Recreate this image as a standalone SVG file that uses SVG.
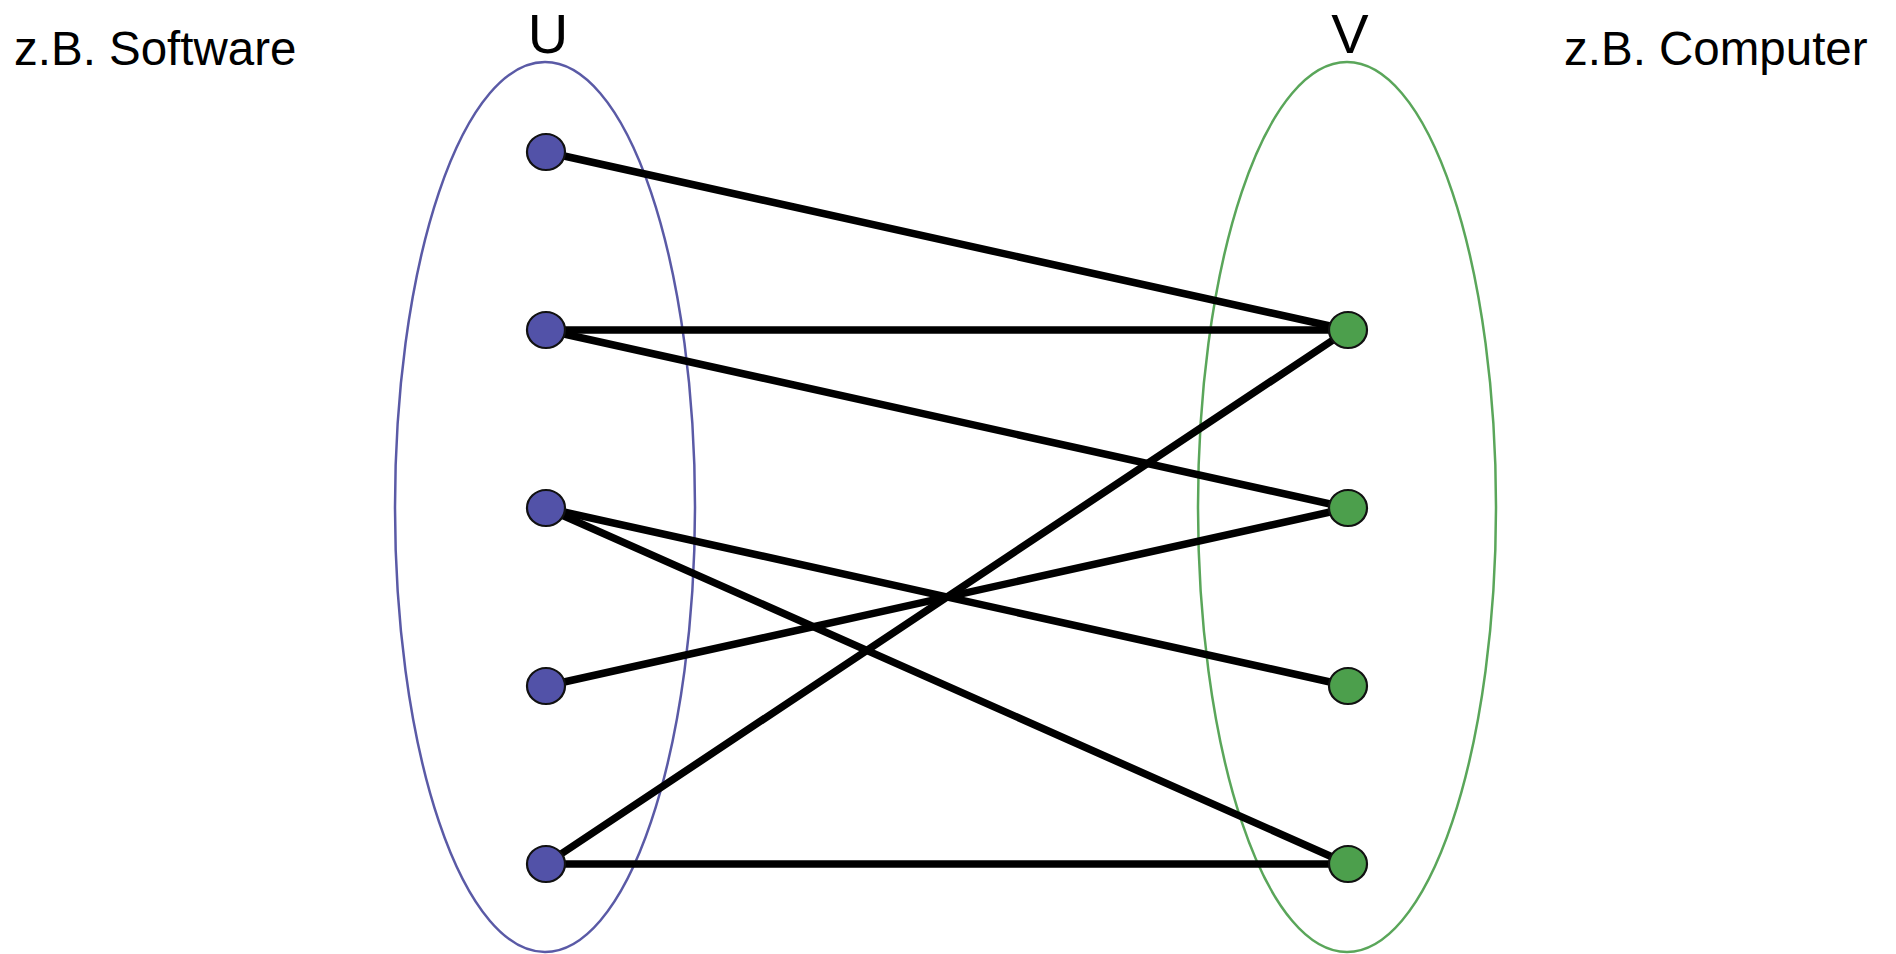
<svg xmlns="http://www.w3.org/2000/svg" width="1896" height="954" viewBox="0 0 1896 954">
<style>
text{font-family:"Liberation Sans",Arial,sans-serif;fill:#000}
.lbl{font-size:47.5px}
.set{font-size:56px;text-anchor:middle}
.e{stroke:#000;stroke-width:7.5;stroke-linecap:round}
.u{fill:#5252a8;stroke:#111;stroke-width:2.2}
.v{fill:#4c9f4c;stroke:#111;stroke-width:2.2}
</style>
<rect width="1896" height="954" fill="#fff"/>
<g id="setU">
<ellipse cx="545" cy="507" rx="150" ry="445" fill="none" stroke="#5a5aa6" stroke-width="2.5"/>
<text class="set" x="548" y="53">U</text>
</g>
<g id="setV">
<ellipse cx="1347" cy="507" rx="149" ry="445" fill="none" stroke="#5aa65a" stroke-width="2.5"/>
<text class="set" x="1350" y="53">V</text>
</g>
<text class="lbl" x="14" y="65">z.B. Software</text>
<text class="lbl" x="1564" y="65">z.B. Computer</text>
<g id="edges">
<line class="e" x1="546" y1="152" x2="1348" y2="330"/>
<line class="e" x1="546" y1="330" x2="1348" y2="330"/>
<line class="e" x1="546" y1="330" x2="1348" y2="508"/>
<line class="e" x1="546" y1="508" x2="1348" y2="686"/>
<line class="e" x1="546" y1="508" x2="1348" y2="864"/>
<line class="e" x1="546" y1="686" x2="1348" y2="508"/>
<line class="e" x1="546" y1="864" x2="1348" y2="330"/>
<line class="e" x1="546" y1="864" x2="1348" y2="864"/>
</g>
<g id="u1"><ellipse class="u" cx="546" cy="152" rx="19" ry="18"/></g>
<g id="u2"><ellipse class="u" cx="546" cy="330" rx="19" ry="18"/></g>
<g id="u3"><ellipse class="u" cx="546" cy="508" rx="19" ry="18"/></g>
<g id="u4"><ellipse class="u" cx="546" cy="686" rx="19" ry="18"/></g>
<g id="u5"><ellipse class="u" cx="546" cy="864" rx="19" ry="18"/></g>
<g id="v1"><ellipse class="v" cx="1348" cy="330" rx="19" ry="18"/></g>
<g id="v2"><ellipse class="v" cx="1348" cy="508" rx="19" ry="18"/></g>
<g id="v3"><ellipse class="v" cx="1348" cy="686" rx="19" ry="18"/></g>
<g id="v4"><ellipse class="v" cx="1348" cy="864" rx="19" ry="18"/></g>
</svg>
